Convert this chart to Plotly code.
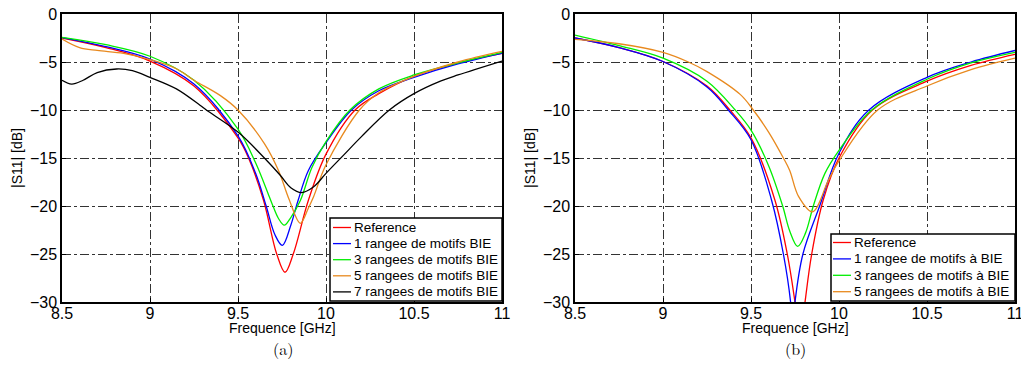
import plotly.graph_objects as go

# ---------------- Panel (a) data ----------------
a_ref_f = [8.5, 8.75, 9.0, 9.25, 9.5, 9.56, 9.645, 9.72, 9.767, 9.814, 9.90, 10.0, 10.165, 10.3, 10.5, 10.75, 11.0]
a_ref_v = [-2.5, -3.5, -4.9, -7.5, -12.9, -15.0, -19.4, -25.0, -26.9, -25.0, -19.4, -14.6, -10.0, -8.3, -6.5, -5.1, -4.1]

a_r1_f = [8.5, 8.75, 9.0, 9.25, 9.5, 9.6, 9.66, 9.71, 9.752, 9.80, 9.84, 9.9, 10.0, 10.145, 10.3, 10.5, 10.75, 11.0]
a_r1_v = [-2.45, -3.4, -4.7, -7.3, -12.7, -16.6, -20.0, -23.0, -24.1, -22.0, -19.5, -16.3, -13.4, -10.0, -8.0, -6.6, -5.2, -4.1]

a_r3_f = [8.5, 8.75, 9.0, 9.25, 9.5, 9.6, 9.69, 9.73, 9.763, 9.80, 9.855, 9.92, 10.0, 10.136, 10.3, 10.5, 10.75, 11.0]
a_r3_v = [-2.43, -3.2, -4.4, -6.9, -12.0, -15.5, -19.6, -21.3, -22.0, -21.2, -19.4, -16.0, -13.3, -10.0, -7.8, -6.35, -5.1, -4.0]

a_r5_f = [8.5, 8.6, 8.7, 8.85, 9.0, 9.15, 9.25, 9.4, 9.5, 9.65, 9.73, 9.79, 9.854, 9.90, 9.93, 10.0, 10.19, 10.3, 10.5, 10.75, 11.0]
a_r5_v = [-2.6, -3.5, -3.8, -4.1, -4.75, -5.7, -6.9, -8.5, -10.0, -13.5, -16.3, -19.3, -21.8, -20.2, -19.0, -15.7, -10.0, -8.2, -6.5, -5.0, -3.9]

a_r7_f = [8.5, 8.555, 8.62, 8.7, 8.81, 8.9, 9.0, 9.15, 9.284, 9.32, 9.5, 9.65, 9.74, 9.8, 9.862, 9.93, 10.0, 10.1, 10.2, 10.36, 10.5, 10.65, 10.75, 11.0]
a_r7_v = [-6.9, -7.3, -6.9, -6.1, -5.73, -5.9, -6.6, -7.8, -9.5, -10.0, -12.3, -15.0, -16.8, -18.1, -18.6, -18.0, -16.6, -14.7, -12.8, -10.0, -8.3, -7.0, -6.35, -4.9]

# ---------------- Panel (b) data ----------------
b_ref_f = [8.5, 8.75, 9.0, 9.25, 9.38, 9.5, 9.636, 9.706, 9.75, 9.78, 9.807, 9.845, 9.91, 10.0, 10.19, 10.5, 10.75, 11.0]
b_ref_v = [-2.5, -3.5, -4.95, -7.5, -10.0, -12.9, -19.4, -25.0, -30.0, -34.0, -30.0, -25.0, -19.4, -15.0, -10.0, -7.0, -5.35, -4.2]

b_r1_f = [8.5, 8.75, 9.0, 9.25, 9.371, 9.5, 9.617, 9.684, 9.725, 9.737, 9.75, 9.795, 9.89, 10.0, 10.17, 10.5, 10.75, 11.0]
b_r1_v = [-2.5, -3.5, -4.95, -7.6, -10.0, -13.1, -19.4, -25.0, -30.0, -33.0, -30.0, -25.0, -20.0, -14.5, -10.0, -6.6, -5.0, -3.8]

b_r3_f = [8.5, 8.75, 9.0, 9.25, 9.41, 9.5, 9.6, 9.68, 9.72, 9.765, 9.81, 9.854, 9.92, 10.0, 10.186, 10.5, 10.75, 11.0]
b_r3_v = [-2.2, -3.3, -4.6, -7.0, -10.0, -12.1, -15.8, -20.0, -22.6, -24.2, -22.8, -20.0, -16.6, -14.2, -10.0, -6.8, -5.1, -4.0]

b_r5_f = [8.5, 8.75, 9.0, 9.144, 9.25, 9.44, 9.513, 9.6, 9.684, 9.72, 9.77, 9.85, 9.94, 10.0, 10.22, 10.5, 10.75, 11.0]
b_r5_v = [-2.65, -3.1, -4.0, -5.0, -6.0, -8.4, -10.0, -12.3, -15.0, -16.3, -19.0, -20.6, -17.3, -15.3, -10.0, -7.5, -5.8, -4.6]

x_ticks = [8.5, 9, 9.5, 10, 10.5, 11]
x_tick_text = ["8.5", "9", "9.5", "10", "10.5", "11"]
y_ticks = [0, -5, -10, -15, -20, -25, -30]

names_a = ["Reference", "1 rangee de motifs BIE", "3 rangees de motifs BIE",
           "5 rangees de motifs BIE", "7 rangees de motifs BIE"]
names_b = ["Reference", "1 rangee de motifs à BIE", "3 rangees de motifs à BIE",
           "5 rangees de motifs à BIE"]
colors = ["#ff0000", "#0000ff", "#00ee00", "#e8891e", "#000000"]

W, H = 1021, 387
def px(x):
    return x / W
def py(y):
    return (H - y) / H

SANS = "Liberation Sans, Arial, sans-serif"
fig = go.Figure()

series_a = [(a_ref_f, a_ref_v), (a_r1_f, a_r1_v), (a_r3_f, a_r3_v), (a_r5_f, a_r5_v), (a_r7_f, a_r7_v)]
for (f, v), n, c in zip(series_a, names_a, colors):
    fig.add_trace(go.Scatter(x=f, y=v, mode="lines", name=n, showlegend=False,
                             line=dict(color=c, width=1.3, shape="spline", smoothing=1.0),
                             xaxis="x", yaxis="y"))

series_b = [(b_ref_f, b_ref_v), (b_r1_f, b_r1_v), (b_r3_f, b_r3_v), (b_r5_f, b_r5_v)]
for (f, v), n, c in zip(series_b, names_b, colors):
    fig.add_trace(go.Scatter(x=f, y=v, mode="lines", name=n, showlegend=False,
                             line=dict(color=c, width=1.3, shape="spline", smoothing=1.0),
                             xaxis="x2", yaxis="y2"))

tickfont = dict(family=SANS, size=16, color="black")
axis_common = dict(showline=True, linecolor="black", linewidth=1.5, mirror=True,
                   ticks="inside", ticklen=4, tickcolor="black", tickfont=tickfont,
                   showgrid=True, gridcolor="#333333", gridwidth=1, griddash="dashdot",
                   zeroline=False, automargin=False, ticklabeloverflow="allow")

ydom = [py(302), py(14)]
fig.update_layout(
    width=W, height=H,
    margin=dict(l=0, r=0, t=0, b=0),
    paper_bgcolor="white", plot_bgcolor="white",
    showlegend=False,
    xaxis=dict(domain=[px(62), px(502)], range=[8.5, 11], tickvals=x_ticks, ticktext=x_tick_text,
               anchor="y", ticklabelstandoff=-4, **axis_common),
    yaxis=dict(domain=ydom, range=[-30, 0], tickvals=y_ticks, anchor="x", **axis_common),
    xaxis2=dict(domain=[px(575), px(1015)], range=[8.5, 11], tickvals=x_ticks, ticktext=x_tick_text,
                anchor="y2", ticklabelstandoff=-4, **axis_common),
    yaxis2=dict(domain=ydom, range=[-30, 0], tickvals=y_ticks, anchor="x2", **axis_common),
)

# ---- custom legends (MATLAB style: compact rows) ----
def add_legend(names, cols, box, row0, dy, line_x0, line_x1, text_x):
    x0, y0, x1, y1 = box
    fig.add_shape(type="rect", xref="paper", yref="paper", x0=px(x0), x1=px(x1), y0=py(y1), y1=py(y0),
                  line=dict(color="black", width=1.5), fillcolor="white", layer="above")
    for i, (n, c) in enumerate(zip(names, cols)):
        yy = row0 + dy * i
        fig.add_shape(type="line", xref="paper", yref="paper", x0=px(line_x0), x1=px(line_x1),
                      y0=py(yy), y1=py(yy), line=dict(color=c, width=1.3), layer="above")
        fig.add_annotation(xref="paper", yref="paper", x=px(text_x), y=py(yy), text=n, showarrow=False,
                           xanchor="left", yanchor="middle",
                           font=dict(family=SANS, size=13.5, color="black"))

add_legend(names_a, colors, (330, 218, 502, 301), 227.5, 16.1, 333, 351, 352)
add_legend(names_b, colors[:4], (831, 234, 1015, 301), 242.5, 16.4, 833, 851, 852)

labfont = dict(family=SANS, size=14, color="black")
serif = dict(family="Latin Modern Roman, DejaVu Serif, Liberation Serif, serif", size=16, color="black")
ann = [
    dict(x=px(282), y=py(328), text="Frequence [GHz]", font=labfont),
    dict(x=px(795), y=py(328), text="Frequence [GHz]", font=labfont),
    dict(x=px(17), y=py(158), text="|S11| [dB]", font=labfont, textangle=-90),
    dict(x=px(530), y=py(158), text="|S11| [dB]", font=labfont, textangle=-90),
    dict(x=px(283), y=py(348), text="(a)", font=serif),
    dict(x=px(795), y=py(348), text="(b)", font=serif),
]
for a in ann:
    fig.add_annotation(xref="paper", yref="paper", showarrow=False, xanchor="center", yanchor="middle", **a)

fig.write_html("out.html", post_script="document.body.style.margin='0px';",
               config={"displayModeBar": False})
